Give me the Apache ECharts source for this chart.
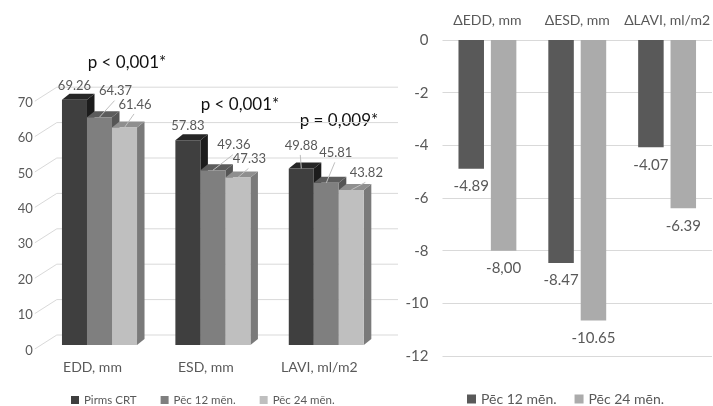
<!DOCTYPE html>
<html>
<head>
<meta charset="utf-8">
<script src="https://cdn.jsdelivr.net/npm/echarts@6/dist/echarts.min.js"></script>
<style>
  html, body { margin: 0; padding: 0; background: #ffffff; }
  #chart { width: 713px; height: 406px; }
</style>
</head>
<body>
<div id="chart"></div>
<script>
// Absolute measurements before and after CRT
const categories = ['EDD, mm', 'ESD, mm', 'LAVI, ml/m2'];
const pirmsCRT = [69.26, 57.83, 49.88];
const pec12 = [64.37, 49.36, 45.81];
const pec24 = [61.46, 47.33, 43.82];
const pValues = ['p < 0,001*', 'p < 0,001*', 'p = 0,009*'];
const leftTicks = [0, 10, 20, 30, 40, 50, 60, 70];

// Changes from baseline
const deltaCategories = ['ΔEDD, mm', 'ΔESD, mm', 'ΔLAVI, ml/m2'];
const delta12 = [-4.89, -8.47, -4.07];
const delta24 = [-8.00, -10.65, -6.39];

const FONT = 'Lato, "Liberation Sans", sans-serif';
const TEXT = '#595959';
const GRID_LINE = '#d9d9d9';

// 3D column shading: front, top, side
const shades = [
  { front: '#3f3f3f', top: '#262626', side: '#1c1c1c' },
  { front: '#7f7f7f', top: '#5c5c5c', side: '#555555' },
  { front: '#bfbfbf', top: '#8f8f8f', side: '#7a7a7a' }
];
const DEPTH_X = 7.5, DEPTH_Y = 6;
const BAR_RATIO = 0.2206;

// label nudges relative to the top-front centre of each column [dx, dy, leader]
const labelNudge = [
  [[0, -14, false], [0, -14, false], [0, -23, true]],
  [[16, -26, true], [21, -25, true], [9.5, -30, true]],
  [[10.5, -23, true], [11.5, -18.5, true], [15, -17, true]]
];

function fmt(v) {
  return Number.isInteger(v) ? v.toFixed(2).replace('.', ',') : v.toFixed(2);
}

function column3d(si) {
  const c = shades[si];
  return function (params, api) {
    const cat = api.value(0), v = api.value(1);
    const base = api.coord([cat, 0]);
    const topP = api.coord([cat, v]);
    const band = api.size([1, 0])[0];
    const w = band * BAR_RATIO;
    const x0 = base[0] + (si - 1) * w - w / 2;
    const x1 = x0 + w;
    const yb = base[1], yt = topP[1];
    const cx = (x0 + x1) / 2;
    const n = labelNudge[si][params.dataIndex];
    const lx = cx + n[0], ly = yt + n[1];
    const children = [
      { type: 'polygon', shape: { points: [[x1, yt], [x1 + DEPTH_X, yt - DEPTH_Y], [x1 + DEPTH_X, yb - DEPTH_Y], [x1, yb]] }, style: { fill: c.side } },
      { type: 'polygon', shape: { points: [[x0, yt], [x0 + DEPTH_X, yt - DEPTH_Y], [x1 + DEPTH_X, yt - DEPTH_Y], [x1, yt]] }, style: { fill: c.top } },
      { type: 'rect', shape: { x: x0, y: yt, width: w, height: yb - yt }, style: { fill: c.front } }
    ];
    if (n[2]) {
      children.push({ type: 'line', shape: { x1: cx, y1: yt, x2: lx - 1, y2: ly + 9.5 }, style: { stroke: '#bfbfbf', lineWidth: 1 } });
    }
    children.push({
      type: 'text', x: lx, y: ly, z2: 10,
      style: { text: fmt(v), fill: TEXT, fontSize: 13, fontFamily: FONT, align: 'center', verticalAlign: 'middle', textAlign: 'center', textVerticalAlign: 'middle' }
    });
    return { type: 'group', children: children };
  };
}

// perspective gridlines: short diagonal from the front edge, then along the back wall
function wallGrid(params, api) {
  const cs = params.coordSys;
  const y = api.coord([0, api.value(1)])[1];
  const fx = cs.x - 8;
  return {
    type: 'polyline',
    shape: { points: [[fx, y + 4], [fx + 22, y - 10], [cs.x + cs.width + 15, y - 10]] },
    style: { stroke: GRID_LINE, lineWidth: 1, fill: null }
  };
}

const chart = echarts.init(document.getElementById('chart'), null, { renderer: 'canvas' });

const pText = (i, x, y) => ({
  type: 'text', x: x, y: y,
  style: { text: pValues[i], fill: '#111', fontSize: 17, fontFamily: FONT, align: 'center', verticalAlign: 'middle', textAlign: 'center', textVerticalAlign: 'middle' }
});

const option = {
  backgroundColor: '#ffffff',
  animation: false,
  textStyle: { fontFamily: FONT },
  grid: [
    { left: 42.8, right: 330, top: 97.2, bottom: 61 },
    { left: 442.5, right: 0.5, top: 40, bottom: 50 }
  ],
  xAxis: [
    {
      gridIndex: 0, type: 'category', data: categories,
      axisLine: { show: false }, axisTick: { show: false },
      axisLabel: {
        interval: 0, color: TEXT, fontFamily: FONT, margin: 15,
        formatter: v => '{c|' + v + '}',
        rich: { c: { fontSize: 14, color: TEXT, fontFamily: FONT, padding: [0, 0, 0, 0] } },
        padding: [0, 14, 0, 0]
      }
    },
    {
      gridIndex: 1, type: 'category', data: deltaCategories, position: 'top',
      axisLine: { show: false }, axisTick: { show: false },
      axisLabel: { interval: 0, hideOverlap: false, color: TEXT, fontSize: 14, fontFamily: FONT, margin: 13 }
    }
  ],
  yAxis: [
    {
      gridIndex: 0, type: 'value', min: 0, max: 70, interval: 10,
      axisLine: { show: false }, axisTick: { show: false }, splitLine: { show: false },
      axisLabel: { color: TEXT, fontSize: 13, fontFamily: FONT, margin: 10, verticalAlign: 'top', lineHeight: 11 }
    },
    {
      gridIndex: 1, type: 'value', min: -12, max: 0, interval: 2,
      axisLine: { show: false }, axisTick: { show: false },
      splitLine: { lineStyle: { color: GRID_LINE, width: 1 } },
      axisLabel: { color: TEXT, fontSize: 15, fontFamily: FONT, margin: 14 }
    }
  ],
  legend: [
    {
      left: 71, top: 394, padding: 0, icon: 'rect', itemWidth: 8, itemHeight: 8, itemGap: 24,
      textStyle: { color: TEXT, fontSize: 11.5, fontFamily: FONT },
      data: [
        { name: 'Pirms CRT', itemStyle: { color: shades[0].front } },
        { name: 'Pēc 12 mēn.', itemStyle: { color: shades[1].front } },
        { name: 'Pēc 24 mēn.', itemStyle: { color: shades[2].front } }
      ]
    },
    {
      left: 467, top: 392, padding: 0, icon: 'rect', itemWidth: 9, itemHeight: 9, itemGap: 18,
      textStyle: { color: TEXT, fontSize: 14, fontFamily: FONT },
      data: [
        { name: 'Pēc 12 mēn.', itemStyle: { color: '#595959' } },
        { name: 'Pēc 24 mēn.', itemStyle: { color: '#ababab' } }
      ]
    }
  ],
  graphic: [pText(0, 127, 62.7), pText(1, 240, 104.3), pText(2, 339, 121)],
  series: [
    {
      type: 'custom', name: 'grid', xAxisIndex: 0, yAxisIndex: 0, z: 1, silent: true,
      renderItem: wallGrid, clip: false,
      data: leftTicks.map(t => [0, t])
    },
    {
      type: 'custom', name: 'Pirms CRT', xAxisIndex: 0, yAxisIndex: 0, z: 2, clip: false,
      itemStyle: { color: shades[0].front },
      renderItem: column3d(0), encode: { x: 0, y: 1 },
      data: pirmsCRT.map((v, i) => [i, v])
    },
    {
      type: 'custom', name: 'Pēc 12 mēn.', xAxisIndex: 0, yAxisIndex: 0, z: 3, clip: false,
      itemStyle: { color: shades[1].front },
      renderItem: column3d(1), encode: { x: 0, y: 1 },
      data: pec12.map((v, i) => [i, v])
    },
    {
      type: 'custom', name: 'Pēc 24 mēn.', xAxisIndex: 0, yAxisIndex: 0, z: 4, clip: false,
      itemStyle: { color: shades[2].front },
      renderItem: column3d(2), encode: { x: 0, y: 1 },
      data: pec24.map((v, i) => [i, v])
    },
    {
      type: 'bar', name: 'Pēc 12 mēn.', xAxisIndex: 1, yAxisIndex: 1,
      barWidth: 25.5, barGap: '27%',
      itemStyle: { color: '#595959' },
      label: { show: true, position: 'bottom', distance: 10, color: TEXT, fontSize: 15, fontFamily: FONT, formatter: p => fmt(p.value) },
      data: delta12
    },
    {
      type: 'bar', name: 'Pēc 24 mēn.', xAxisIndex: 1, yAxisIndex: 1,
      barWidth: 25.5, barGap: '27%',
      itemStyle: { color: '#ababab' },
      label: { show: true, position: 'bottom', distance: 10, color: TEXT, fontSize: 15, fontFamily: FONT, formatter: p => fmt(p.value) },
      data: delta24
    }
  ]
};

chart.setOption(option);
</script>
</body>
</html>
